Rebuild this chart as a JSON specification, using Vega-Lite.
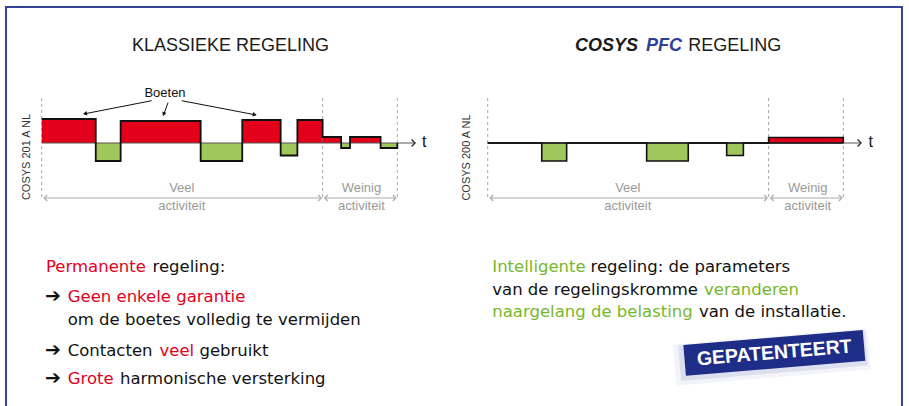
{
  "$schema": "https://vega.github.io/schema/vega-lite/v6.json",
  "padding": 0,
  "spacing": 0,
  "bounds": "flush",
  "background": "white",
  "config": {"view": {"stroke": null}, "axis": {"disable": true}},
  "hconcat": [
    {
      "width": 450,
      "height": 406,
      "layer": [
        {"data": {"values": [{}]}, "mark": {"type": "rule", "color": "#34449a", "strokeWidth": 2, "strokeCap": "square"},
         "encoding": {"x": {"datum": -10.04, "type": "quantitative", "scale": {"domain": [-11.727, 114.82], "nice": false, "zero": false}}, "x2": {"datum": 114.82}, "y": {"datum": 136, "type": "quantitative", "scale": {"domain": [-263, 143], "nice": false, "zero": false}}}},
        {"data": {"values": [{}]}, "mark": {"type": "rule", "color": "#34449a", "strokeWidth": 2, "strokeCap": "square"},
         "encoding": {"x": {"datum": -10.04, "type": "quantitative", "scale": {"domain": [-11.727, 114.82], "nice": false, "zero": false}}, "y": {"datum": 136, "type": "quantitative", "scale": {"domain": [-263, 143], "nice": false, "zero": false}}, "y2": {"datum": -263}}},
        {"data": {"values": [{"t": 0}, {"t": 79}, {"t": 100}]}, "mark": {"type": "rule", "color": "#a8a8a8", "strokeWidth": 1, "strokeDash": [3, 3]},
         "encoding": {"x": {"field": "t", "type": "quantitative", "scale": {"domain": [-11.727, 114.82], "nice": false, "zero": false}}, "y": {"datum": 45, "type": "quantitative", "scale": {"domain": [-263, 143], "nice": false, "zero": false}}, "y2": {"datum": -57}}},
        {"data": {"values": [
          {"t0": 0, "t1": 15.2, "v": 24, "zone": "boete"},
          {"t0": 15.2, "t1": 22.2, "v": -18, "zone": "compensatie"},
          {"t0": 22.2, "t1": 44.7, "v": 22, "zone": "boete"},
          {"t0": 44.7, "t1": 56.4, "v": -18, "zone": "compensatie"},
          {"t0": 56.4, "t1": 67.2, "v": 23, "zone": "boete"},
          {"t0": 67.2, "t1": 71.9, "v": -12.5, "zone": "compensatie"},
          {"t0": 71.9, "t1": 79, "v": 23, "zone": "boete"},
          {"t0": 79, "t1": 84.2, "v": 6, "zone": "boete"},
          {"t0": 84.2, "t1": 86.7, "v": -5, "zone": "compensatie"},
          {"t0": 86.7, "t1": 95.3, "v": 6, "zone": "boete"},
          {"t0": 95.3, "t1": 100, "v": -5, "zone": "compensatie"}
        ]}, "mark": {"type": "rect"},
         "encoding": {"x": {"field": "t0", "type": "quantitative", "scale": {"domain": [-11.727, 114.82], "nice": false, "zero": false}}, "x2": {"field": "t1"}, "y": {"field": "v", "type": "quantitative", "scale": {"domain": [-263, 143], "nice": false, "zero": false}}, "y2": {"datum": 0},
           "color": {"field": "zone", "type": "nominal", "scale": {"domain": ["boete", "compensatie"], "range": ["#e2001a", "#a0c75b"]}, "legend": null}}},
        {"data": {"values": [{}]}, "mark": {"type": "rule", "color": "#555555", "strokeWidth": 1},
         "encoding": {"x": {"datum": 0, "type": "quantitative", "scale": {"domain": [-11.727, 114.82], "nice": false, "zero": false}}, "x2": {"datum": 105}, "y": {"datum": 0, "type": "quantitative", "scale": {"domain": [-263, 143], "nice": false, "zero": false}}}},
        {"data": {"values": [
          {"i": 0, "t": 0, "v": 24}, {"i": 1, "t": 15.2, "v": -18}, {"i": 2, "t": 22.2, "v": 22}, {"i": 3, "t": 44.7, "v": -18},
          {"i": 4, "t": 56.4, "v": 23}, {"i": 5, "t": 67.2, "v": -12.5}, {"i": 6, "t": 71.9, "v": 23}, {"i": 7, "t": 79, "v": 6},
          {"i": 8, "t": 84.2, "v": -5}, {"i": 9, "t": 86.7, "v": 6}, {"i": 10, "t": 95.3, "v": -5}, {"i": 11, "t": 100, "v": -5}, {"i": 12, "t": 100, "v": 0}
        ]}, "mark": {"type": "line", "interpolate": "step-after", "color": "#111111", "strokeWidth": 1.8},
         "encoding": {"x": {"field": "t", "type": "quantitative", "scale": {"domain": [-11.727, 114.82], "nice": false, "zero": false}}, "y": {"field": "v", "type": "quantitative", "scale": {"domain": [-263, 143], "nice": false, "zero": false}}, "order": {"field": "i"}}},
        {"data": {"values": [{}]}, "mark": {"type": "point", "shape": "M-1,-1L0,0L-1,1", "filled": false, "color": "#222222", "strokeWidth": 1.2, "size": 49, "opacity": 1},
         "encoding": {"x": {"datum": 105, "type": "quantitative", "scale": {"domain": [-11.727, 114.82], "nice": false, "zero": false}}, "y": {"datum": 0, "type": "quantitative", "scale": {"domain": [-263, 143], "nice": false, "zero": false}}}},
        {"data": {"values": [{}]}, "mark": {"type": "text", "font": "Liberation Sans", "fontSize": 16, "color": "#111111", "align": "center", "baseline": "middle"},
         "encoding": {"x": {"datum": 107.6, "type": "quantitative", "scale": {"domain": [-11.727, 114.82], "nice": false, "zero": false}}, "y": {"datum": 1, "type": "quantitative", "scale": {"domain": [-263, 143], "nice": false, "zero": false}}, "text": {"value": "t"}}},
        {"data": {"values": [{}]}, "mark": {"type": "text", "font": "Liberation Sans", "fontSize": 11, "color": "#333333", "align": "center", "baseline": "middle", "angle": 270},
         "encoding": {"x": {"datum": -4.2, "type": "quantitative", "scale": {"domain": [-11.727, 114.82], "nice": false, "zero": false}}, "y": {"datum": -14, "type": "quantitative", "scale": {"domain": [-263, 143], "nice": false, "zero": false}}, "text": {"value": "COSYS 201 A NL"}}},
        {"data": {"values": [{}]}, "mark": {"type": "text", "font": "Liberation Sans", "fontSize": 13, "color": "#111111", "align": "center", "baseline": "middle"},
         "encoding": {"x": {"datum": 34.67, "type": "quantitative", "scale": {"domain": [-11.727, 114.82], "nice": false, "zero": false}}, "y": {"datum": 50, "type": "quantitative", "scale": {"domain": [-263, 143], "nice": false, "zero": false}}, "text": {"value": "Boeten"}}},
        {"data": {"values": [{}]}, "mark": {"type": "rule", "color": "#111111", "strokeWidth": 1},
         "encoding": {"x": {"datum": 30.93, "type": "quantitative", "scale": {"domain": [-11.727, 114.82], "nice": false, "zero": false}}, "x2": {"datum": 11.9}, "y": {"datum": 42.3, "type": "quantitative", "scale": {"domain": [-263, 143], "nice": false, "zero": false}}, "y2": {"datum": 29.1}}},
        {"data": {"values": [{}]}, "mark": {"type": "rule", "color": "#111111", "strokeWidth": 1},
         "encoding": {"x": {"datum": 35.52, "type": "quantitative", "scale": {"domain": [-11.727, 114.82], "nice": false, "zero": false}}, "x2": {"datum": 34.2}, "y": {"datum": 40.3, "type": "quantitative", "scale": {"domain": [-263, 143], "nice": false, "zero": false}}, "y2": {"datum": 27.5}}},
        {"data": {"values": [{}]}, "mark": {"type": "rule", "color": "#111111", "strokeWidth": 1},
         "encoding": {"x": {"datum": 39.37, "type": "quantitative", "scale": {"domain": [-11.727, 114.82], "nice": false, "zero": false}}, "x2": {"datum": 60.2}, "y": {"datum": 42.3, "type": "quantitative", "scale": {"domain": [-263, 143], "nice": false, "zero": false}}, "y2": {"datum": 28.1}}},
        {"data": {"values": [{}]}, "mark": {"type": "point", "shape": "M0,0L-1,-0.55L-1,0.55Z", "filled": true, "color": "#111111", "size": 64, "angle": 169, "opacity": 1},
         "encoding": {"x": {"datum": 11.61, "type": "quantitative", "scale": {"domain": [-11.727, 114.82], "nice": false, "zero": false}}, "y": {"datum": 29, "type": "quantitative", "scale": {"domain": [-263, 143], "nice": false, "zero": false}}}},
        {"data": {"values": [{}]}, "mark": {"type": "point", "shape": "M0,0L-1,-0.55L-1,0.55Z", "filled": true, "color": "#111111", "size": 64, "angle": 110.6, "opacity": 1},
         "encoding": {"x": {"datum": 34.11, "type": "quantitative", "scale": {"domain": [-11.727, 114.82], "nice": false, "zero": false}}, "y": {"datum": 27, "type": "quantitative", "scale": {"domain": [-263, 143], "nice": false, "zero": false}}}},
        {"data": {"values": [{}]}, "mark": {"type": "point", "shape": "M0,0L-1,-0.55L-1,0.55Z", "filled": true, "color": "#111111", "size": 64, "angle": 10.8, "opacity": 1},
         "encoding": {"x": {"datum": 60.46, "type": "quantitative", "scale": {"domain": [-11.727, 114.82], "nice": false, "zero": false}}, "y": {"datum": 28, "type": "quantitative", "scale": {"domain": [-263, 143], "nice": false, "zero": false}}}},
        {"data": {"values": [{"a": 0.7, "b": 78.6}, {"a": 79.6, "b": 99.6}]}, "mark": {"type": "rule", "color": "#aaaaaa", "strokeWidth": 1.2},
         "encoding": {"x": {"field": "a", "type": "quantitative", "scale": {"domain": [-11.727, 114.82], "nice": false, "zero": false}}, "x2": {"field": "b"}, "y": {"datum": -55, "type": "quantitative", "scale": {"domain": [-263, 143], "nice": false, "zero": false}}}},
        {"data": {"values": [{"a": 0.7}, {"a": 79.6}]}, "mark": {"type": "point", "shape": "M-1,-1L0,0L-1,1", "filled": false, "color": "#aaaaaa", "strokeWidth": 1.2, "size": 36, "angle": 180, "opacity": 1},
         "encoding": {"x": {"field": "a", "type": "quantitative", "scale": {"domain": [-11.727, 114.82], "nice": false, "zero": false}}, "y": {"datum": -55, "type": "quantitative", "scale": {"domain": [-263, 143], "nice": false, "zero": false}}}},
        {"data": {"values": [{"b": 78.6}, {"b": 99.6}]}, "mark": {"type": "point", "shape": "M-1,-1L0,0L-1,1", "filled": false, "color": "#aaaaaa", "strokeWidth": 1.2, "size": 36, "angle": 0, "opacity": 1},
         "encoding": {"x": {"field": "b", "type": "quantitative", "scale": {"domain": [-11.727, 114.82], "nice": false, "zero": false}}, "y": {"datum": -55, "type": "quantitative", "scale": {"domain": [-263, 143], "nice": false, "zero": false}}}},
        {"data": {"values": [{"mid": 39.4, "label": "Veel"}, {"mid": 89.9, "label": "Weinig"}]}, "mark": {"type": "text", "font": "Liberation Sans", "fontSize": 13, "color": "#9a9a9a", "align": "center", "baseline": "middle"},
         "encoding": {"x": {"field": "mid", "type": "quantitative", "scale": {"domain": [-11.727, 114.82], "nice": false, "zero": false}}, "y": {"datum": -45.3, "type": "quantitative", "scale": {"domain": [-263, 143], "nice": false, "zero": false}}, "text": {"field": "label"}}},
        {"data": {"values": [{"mid": 39.4, "label": "activiteit"}, {"mid": 89.9, "label": "activiteit"}]}, "mark": {"type": "text", "font": "Liberation Sans", "fontSize": 13, "color": "#9a9a9a", "align": "center", "baseline": "middle"},
         "encoding": {"x": {"field": "mid", "type": "quantitative", "scale": {"domain": [-11.727, 114.82], "nice": false, "zero": false}}, "y": {"datum": -62.5, "type": "quantitative", "scale": {"domain": [-263, 143], "nice": false, "zero": false}}, "text": {"field": "label"}}},
        {"data": {"values": [{}]}, "mark": {"type": "text", "font": "Liberation Sans", "fontSize": 18, "color": "#1a1a1a", "align": "center", "baseline": "alphabetic"},
         "encoding": {"x": {"datum": 53.1, "type": "quantitative", "scale": {"domain": [-11.727, 114.82], "nice": false, "zero": false}}, "y": {"datum": 92.3, "type": "quantitative", "scale": {"domain": [-263, 143], "nice": false, "zero": false}}, "text": {"value": "KLASSIEKE REGELING"}}},
        {"data": {"values": [{"x": 1.21, "y": -129, "s": "Permanente"}, {"x": 7.31, "y": -159, "s": "Geen enkele garantie"}, {"x": 33.13, "y": -212.5, "s": "veel"}, {"x": 7.31, "y": -241, "s": "Grote"}]},
         "mark": {"type": "text", "font": "DejaVu Sans", "fontSize": 16.5, "color": "#e3001b", "align": "left", "baseline": "alphabetic"},
         "encoding": {"x": {"field": "x", "type": "quantitative", "scale": {"domain": [-11.727, 114.82], "nice": false, "zero": false}}, "y": {"field": "y", "type": "quantitative", "scale": {"domain": [-263, 143], "nice": false, "zero": false}}, "text": {"field": "s"}}},
        {"data": {"values": [{"x": 31.16, "y": -129, "s": "regeling:"}, {"x": 7.31, "y": -181.5, "s": "om de boetes volledig te vermijden"}, {"x": 7.31, "y": -212.5, "s": "Contacten"}, {"x": 44.35, "y": -212.5, "s": "gebruikt"}, {"x": 22.02, "y": -241, "s": "harmonische versterking"}]},
         "mark": {"type": "text", "font": "DejaVu Sans", "fontSize": 16.5, "color": "#111111", "align": "left", "baseline": "alphabetic"},
         "encoding": {"x": {"field": "x", "type": "quantitative", "scale": {"domain": [-11.727, 114.82], "nice": false, "zero": false}}, "y": {"field": "y", "type": "quantitative", "scale": {"domain": [-263, 143], "nice": false, "zero": false}}, "text": {"field": "s"}}},
        {"data": {"values": [{"y": -159}, {"y": -212.5}, {"y": -241}]},
         "mark": {"type": "text", "font": "DejaVu Sans", "fontSize": 19, "color": "#111111", "align": "left", "baseline": "alphabetic"},
         "encoding": {"x": {"datum": 0.9, "type": "quantitative", "scale": {"domain": [-11.727, 114.82], "nice": false, "zero": false}}, "y": {"field": "y", "type": "quantitative", "scale": {"domain": [-263, 143], "nice": false, "zero": false}}, "text": {"value": "➔"}}}
      ]
    },
    {
      "width": 459,
      "height": 406,
      "layer": [
        {"data": {"values": [{}]}, "mark": {"type": "rule", "color": "#34449a", "strokeWidth": 2, "strokeCap": "square"},
         "encoding": {"x": {"datum": -10.602, "type": "quantitative", "scale": {"domain": [-10.602, 118.476], "nice": false, "zero": false}}, "x2": {"datum": 116.5}, "y": {"datum": 136, "type": "quantitative", "scale": {"domain": [-263, 143], "nice": false, "zero": false}}}},
        {"data": {"values": [{}]}, "mark": {"type": "rule", "color": "#34449a", "strokeWidth": 2, "strokeCap": "square"},
         "encoding": {"x": {"datum": 116.5, "type": "quantitative", "scale": {"domain": [-10.602, 118.476], "nice": false, "zero": false}}, "y": {"datum": 136, "type": "quantitative", "scale": {"domain": [-263, 143], "nice": false, "zero": false}}, "y2": {"datum": -263}}},
        {"data": {"values": [{"t": 0}, {"t": 79}, {"t": 100}]}, "mark": {"type": "rule", "color": "#a8a8a8", "strokeWidth": 1, "strokeDash": [3, 3]},
         "encoding": {"x": {"field": "t", "type": "quantitative", "scale": {"domain": [-10.602, 118.476], "nice": false, "zero": false}}, "y": {"datum": 45, "type": "quantitative", "scale": {"domain": [-263, 143], "nice": false, "zero": false}}, "y2": {"datum": -57}}},
        {"data": {"values": [
          {"t0": 15.2, "t1": 22.2, "v": -18, "zone": "compensatie"},
          {"t0": 44.7, "t1": 56.4, "v": -18, "zone": "compensatie"},
          {"t0": 67.2, "t1": 71.9, "v": -12.5, "zone": "compensatie"},
          {"t0": 79, "t1": 100, "v": 5.5, "zone": "boete"}
        ]}, "mark": {"type": "rect"},
         "encoding": {"x": {"field": "t0", "type": "quantitative", "scale": {"domain": [-10.602, 118.476], "nice": false, "zero": false}}, "x2": {"field": "t1"}, "y": {"field": "v", "type": "quantitative", "scale": {"domain": [-263, 143], "nice": false, "zero": false}}, "y2": {"datum": 0},
           "color": {"field": "zone", "type": "nominal", "scale": {"domain": ["boete", "compensatie"], "range": ["#e2001a", "#a0c75b"]}, "legend": null}}},
        {"data": {"values": [{}]}, "mark": {"type": "rule", "color": "#555555", "strokeWidth": 1},
         "encoding": {"x": {"datum": 0, "type": "quantitative", "scale": {"domain": [-10.602, 118.476], "nice": false, "zero": false}}, "x2": {"datum": 105}, "y": {"datum": 0, "type": "quantitative", "scale": {"domain": [-263, 143], "nice": false, "zero": false}}}},
        {"data": {"values": [{}]}, "mark": {"type": "rule", "color": "#111111", "strokeWidth": 1.6},
         "encoding": {"x": {"datum": 0, "type": "quantitative", "scale": {"domain": [-10.602, 118.476], "nice": false, "zero": false}}, "x2": {"datum": 100}, "y": {"datum": 0, "type": "quantitative", "scale": {"domain": [-263, 143], "nice": false, "zero": false}}}},
        {"data": {"values": [
          {"i": 0, "t": 0, "v": 0}, {"i": 1, "t": 15.2, "v": -18}, {"i": 2, "t": 22.2, "v": 0}, {"i": 3, "t": 44.7, "v": -18},
          {"i": 4, "t": 56.4, "v": 0}, {"i": 5, "t": 67.2, "v": -12.5}, {"i": 6, "t": 71.9, "v": 0}, {"i": 7, "t": 79, "v": 5.5},
          {"i": 8, "t": 100, "v": 5.5}, {"i": 9, "t": 100, "v": 0}
        ]}, "mark": {"type": "line", "interpolate": "step-after", "color": "#111111", "strokeWidth": 1.6},
         "encoding": {"x": {"field": "t", "type": "quantitative", "scale": {"domain": [-10.602, 118.476], "nice": false, "zero": false}}, "y": {"field": "v", "type": "quantitative", "scale": {"domain": [-263, 143], "nice": false, "zero": false}}, "order": {"field": "i"}}},
        {"data": {"values": [{}]}, "mark": {"type": "point", "shape": "M-1,-1L0,0L-1,1", "filled": false, "color": "#222222", "strokeWidth": 1.2, "size": 49, "opacity": 1},
         "encoding": {"x": {"datum": 105, "type": "quantitative", "scale": {"domain": [-10.602, 118.476], "nice": false, "zero": false}}, "y": {"datum": 0, "type": "quantitative", "scale": {"domain": [-263, 143], "nice": false, "zero": false}}}},
        {"data": {"values": [{}]}, "mark": {"type": "text", "font": "Liberation Sans", "fontSize": 16, "color": "#111111", "align": "center", "baseline": "middle"},
         "encoding": {"x": {"datum": 107.7, "type": "quantitative", "scale": {"domain": [-10.602, 118.476], "nice": false, "zero": false}}, "y": {"datum": 1, "type": "quantitative", "scale": {"domain": [-263, 143], "nice": false, "zero": false}}, "text": {"value": "t"}}},
        {"data": {"values": [{}]}, "mark": {"type": "text", "font": "Liberation Sans", "fontSize": 11, "color": "#333333", "align": "center", "baseline": "middle", "angle": 270},
         "encoding": {"x": {"datum": -5.9, "type": "quantitative", "scale": {"domain": [-10.602, 118.476], "nice": false, "zero": false}}, "y": {"datum": -14.5, "type": "quantitative", "scale": {"domain": [-263, 143], "nice": false, "zero": false}}, "text": {"value": "COSYS 200 A NL"}}},
        {"data": {"values": [{"a": 0.7, "b": 78.6}, {"a": 79.6, "b": 99.6}]}, "mark": {"type": "rule", "color": "#aaaaaa", "strokeWidth": 1.2},
         "encoding": {"x": {"field": "a", "type": "quantitative", "scale": {"domain": [-10.602, 118.476], "nice": false, "zero": false}}, "x2": {"field": "b"}, "y": {"datum": -55, "type": "quantitative", "scale": {"domain": [-263, 143], "nice": false, "zero": false}}}},
        {"data": {"values": [{"a": 0.7}, {"a": 79.6}]}, "mark": {"type": "point", "shape": "M-1,-1L0,0L-1,1", "filled": false, "color": "#aaaaaa", "strokeWidth": 1.2, "size": 36, "angle": 180, "opacity": 1},
         "encoding": {"x": {"field": "a", "type": "quantitative", "scale": {"domain": [-10.602, 118.476], "nice": false, "zero": false}}, "y": {"datum": -55, "type": "quantitative", "scale": {"domain": [-263, 143], "nice": false, "zero": false}}}},
        {"data": {"values": [{"b": 78.6}, {"b": 99.6}]}, "mark": {"type": "point", "shape": "M-1,-1L0,0L-1,1", "filled": false, "color": "#aaaaaa", "strokeWidth": 1.2, "size": 36, "angle": 0, "opacity": 1},
         "encoding": {"x": {"field": "b", "type": "quantitative", "scale": {"domain": [-10.602, 118.476], "nice": false, "zero": false}}, "y": {"datum": -55, "type": "quantitative", "scale": {"domain": [-263, 143], "nice": false, "zero": false}}}},
        {"data": {"values": [{"mid": 39.4, "label": "Veel"}, {"mid": 90, "label": "Weinig"}]}, "mark": {"type": "text", "font": "Liberation Sans", "fontSize": 13, "color": "#9a9a9a", "align": "center", "baseline": "middle"},
         "encoding": {"x": {"field": "mid", "type": "quantitative", "scale": {"domain": [-10.602, 118.476], "nice": false, "zero": false}}, "y": {"datum": -45.3, "type": "quantitative", "scale": {"domain": [-263, 143], "nice": false, "zero": false}}, "text": {"field": "label"}}},
        {"data": {"values": [{"mid": 39.4, "label": "activiteit"}, {"mid": 90, "label": "activiteit"}]}, "mark": {"type": "text", "font": "Liberation Sans", "fontSize": 13, "color": "#9a9a9a", "align": "center", "baseline": "middle"},
         "encoding": {"x": {"field": "mid", "type": "quantitative", "scale": {"domain": [-10.602, 118.476], "nice": false, "zero": false}}, "y": {"datum": -62.5, "type": "quantitative", "scale": {"domain": [-263, 143], "nice": false, "zero": false}}, "text": {"field": "label"}}},
        {"data": {"values": [{}]}, "mark": {"type": "text", "font": "Liberation Sans", "fontSize": 18, "fontWeight": "bold", "fontStyle": "italic", "color": "#1a1a1a", "align": "left", "baseline": "alphabetic"},
         "encoding": {"x": {"datum": 24.55, "type": "quantitative", "scale": {"domain": [-10.602, 118.476], "nice": false, "zero": false}}, "y": {"datum": 92.3, "type": "quantitative", "scale": {"domain": [-263, 143], "nice": false, "zero": false}}, "text": {"value": "COSYS"}}},
        {"data": {"values": [{}]}, "mark": {"type": "text", "font": "Liberation Sans", "fontSize": 18, "fontWeight": "bold", "fontStyle": "italic", "color": "#2b3f98", "align": "left", "baseline": "alphabetic"},
         "encoding": {"x": {"datum": 44.51, "type": "quantitative", "scale": {"domain": [-10.602, 118.476], "nice": false, "zero": false}}, "y": {"datum": 92.3, "type": "quantitative", "scale": {"domain": [-263, 143], "nice": false, "zero": false}}, "text": {"value": "PFC"}}},
        {"data": {"values": [{}]}, "mark": {"type": "text", "font": "Liberation Sans", "fontSize": 18, "color": "#1a1a1a", "align": "left", "baseline": "alphabetic"},
         "encoding": {"x": {"datum": 56.41, "type": "quantitative", "scale": {"domain": [-10.602, 118.476], "nice": false, "zero": false}}, "y": {"datum": 92.3, "type": "quantitative", "scale": {"domain": [-263, 143], "nice": false, "zero": false}}, "text": {"value": "REGELING"}}},
        {"data": {"values": [{"x": 1.29, "y": -129, "s": "Intelligente"}, {"x": 60.83, "y": -151.5, "s": "veranderen"}, {"x": 1.29, "y": -173.5, "s": "naargelang de belasting"}]},
         "mark": {"type": "text", "font": "DejaVu Sans", "fontSize": 16.5, "color": "#77b82a", "align": "left", "baseline": "alphabetic"},
         "encoding": {"x": {"field": "x", "type": "quantitative", "scale": {"domain": [-10.602, 118.476], "nice": false, "zero": false}}, "y": {"field": "y", "type": "quantitative", "scale": {"domain": [-263, 143], "nice": false, "zero": false}}, "text": {"field": "s"}}},
        {"data": {"values": [{"x": 28.91, "y": -129, "s": "regeling: de parameters"}, {"x": 1.29, "y": -151.5, "s": "van de regelingskromme"}, {"x": 59.42, "y": -173.5, "s": "van de installatie."}]},
         "mark": {"type": "text", "font": "DejaVu Sans", "fontSize": 16.5, "color": "#111111", "align": "left", "baseline": "alphabetic"},
         "encoding": {"x": {"field": "x", "type": "quantitative", "scale": {"domain": [-10.602, 118.476], "nice": false, "zero": false}}, "y": {"field": "y", "type": "quantitative", "scale": {"domain": [-263, 143], "nice": false, "zero": false}}, "text": {"field": "s"}}},
        {"data": {"values": [{}]}, "mark": {"type": "point", "shape": "M-1,-0.21L1,-0.21L1,0.21L-1,0.21Z", "filled": true, "color": "#6a74b8", "size": 38000, "angle": 355.2, "opacity": 0.08},
         "encoding": {"x": {"datum": 79.9, "type": "quantitative", "scale": {"domain": [-10.602, 118.476], "nice": false, "zero": false}}, "y": {"datum": -214, "type": "quantitative", "scale": {"domain": [-263, 143], "nice": false, "zero": false}}}},
        {"data": {"values": [{}]}, "mark": {"type": "point", "shape": "M-1,-0.19L1,-0.19L1,0.19L-1,0.19Z", "filled": true, "color": "#5a66b0", "size": 35000, "angle": 355.2, "opacity": 0.14},
         "encoding": {"x": {"datum": 80.2, "type": "quantitative", "scale": {"domain": [-10.602, 118.476], "nice": false, "zero": false}}, "y": {"datum": -212.5, "type": "quantitative", "scale": {"domain": [-263, 143], "nice": false, "zero": false}}}},
        {"data": {"values": [{}]}, "mark": {"type": "point", "shape": "M-1,-0.172L1,-0.172L1,0.172L-1,0.172Z", "filled": true, "color": "#1e2d87", "size": 32400, "angle": 355.2, "opacity": 1},
         "encoding": {"x": {"datum": 80.6, "type": "quantitative", "scale": {"domain": [-10.602, 118.476], "nice": false, "zero": false}}, "y": {"datum": -209.9, "type": "quantitative", "scale": {"domain": [-263, 143], "nice": false, "zero": false}}}},
        {"data": {"values": [{}]}, "mark": {"type": "text", "font": "Liberation Sans", "fontSize": 19.5, "fontWeight": "bold", "color": "#ffffff", "align": "center", "baseline": "middle", "angle": 355.2},
         "encoding": {"x": {"datum": 80.6, "type": "quantitative", "scale": {"domain": [-10.602, 118.476], "nice": false, "zero": false}}, "y": {"datum": -209.9, "type": "quantitative", "scale": {"domain": [-263, 143], "nice": false, "zero": false}}, "text": {"value": "GEPATENTEERT"}}}
      ]
    }
  ]
}
